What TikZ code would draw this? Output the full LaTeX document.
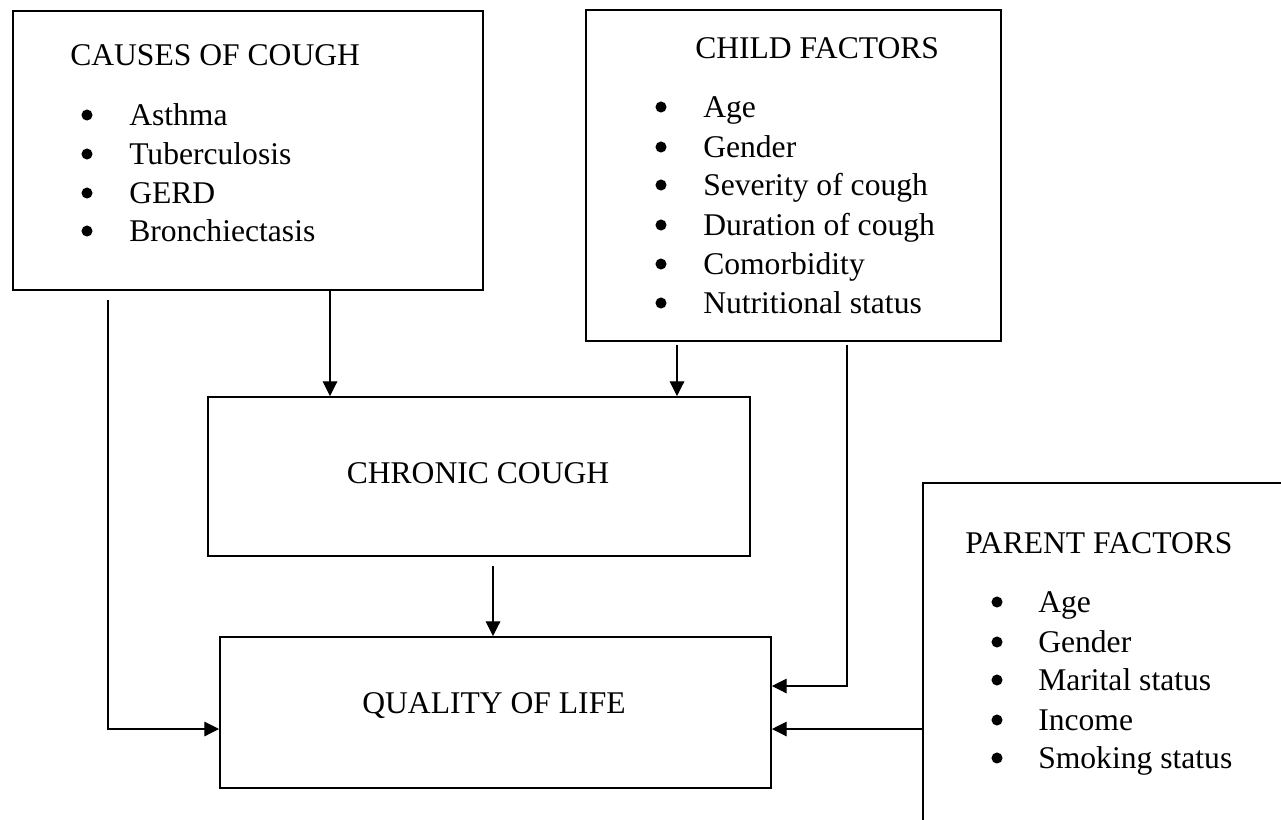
\documentclass[tikz,border=0pt]{standalone}
\usepackage{fontspec}
\setmainfont{Liberation Serif}
\usetikzlibrary{arrows.meta,calc}
\begin{document}
\begin{tikzpicture}[x=0.75pt,y=-0.75pt,
  box/.style={draw,line width=1.5pt,rectangle,inner sep=0pt,anchor=north west},
  txt/.style={anchor=base west,inner sep=0pt,font=\fontsize{23.7pt}{28pt}\selectfont},
  ctxt/.style={anchor=base,inner sep=0pt,font=\fontsize{23.7pt}{28pt}\selectfont},
  bul/.style={circle,fill,inner sep=0pt,minimum size=8.3pt},
  conn/.style={line width=0.8pt,-{Triangle[length=11pt,width=11pt]}}]
\useasboundingbox (0,0) rectangle (1281,819);
\clip (0,0) rectangle (1281,819);

% boxes
\node[box,minimum width=352.5pt,minimum height=209.25pt] (causes) at (12,10) {};
\node[box,minimum width=311.25pt,minimum height=248.25pt] (child) at (585,9) {};
\node[box,minimum width=406.5pt,minimum height=119.25pt] (chronic) at (207,396) {};
\node[box,minimum width=413.25pt,minimum height=113.25pt] (qol) at (219,636) {};
\node[box,minimum width=283.5pt,minimum height=268.5pt] (parent) at (922,482) {};

% titles
\node[txt] (causesT) at (70,65) {CAUSES OF COUGH};
\node[txt] (childT) at (695,58) {CHILD FACTORS};
\node[txt] (parentT) at (965,553) {PARENT FACTORS};
\node[ctxt] (chronicT) at (478,483) {CHRONIC COUGH};
\node[ctxt] (qolT) at (494,713) {QUALITY OF LIFE};

% causes list
\foreach \y/\t [count=\i] in {125/Asthma,164/Tuberculosis,203/GERD,241/Bronchiectasis}{
  \node[bul] (cb\i) at (87,\y-10) {};
  \node[txt] (ct\i) at (129,\y) {\t};
}
% child list
\foreach \y/\t [count=\i] in {117/Age,157/Gender,195/Severity of cough,235/Duration of cough,274/Comorbidity,313/Nutritional status}{
  \node[bul] (kb\i) at (661,\y-10) {};
  \node[txt] (kt\i) at (703,\y) {\t};
}
% parent list
\foreach \y/\t [count=\i] in {612/Age,652/Gender,690/Marital status,730/Income,768/Smoking status}{
  \node[bul] (pb\i) at (997,\y-10) {};
  \node[txt] (pt\i) at (1038,\y) {\t};
}

% connector coordinates
\coordinate (c1) at (330,0);
\coordinate (c2) at (677,0);
\coordinate (c3) at (108,729);
\coordinate (c4) at (847,686);
\coordinate (c5) at (493,0);

\draw[conn] (causes.south -| c1) -- (chronic.north -| c1);
\draw[conn,shorten <=2pt] (child.south -| c2) -- (chronic.north -| c2);
\draw[conn,shorten <=7pt] (causes.south -| c3) -- (c3) -- (qol.west |- c3);
\draw[conn,shorten <=2pt] (child.south -| c4) -- (c4) -- (qol.east |- c4);
\draw[conn] (parent.west |- c3) -- (qol.east |- c3);
\draw[conn,shorten <=7pt] (chronic.south -| c5) -- (qol.north -| c5);
\end{tikzpicture}
\end{document}
